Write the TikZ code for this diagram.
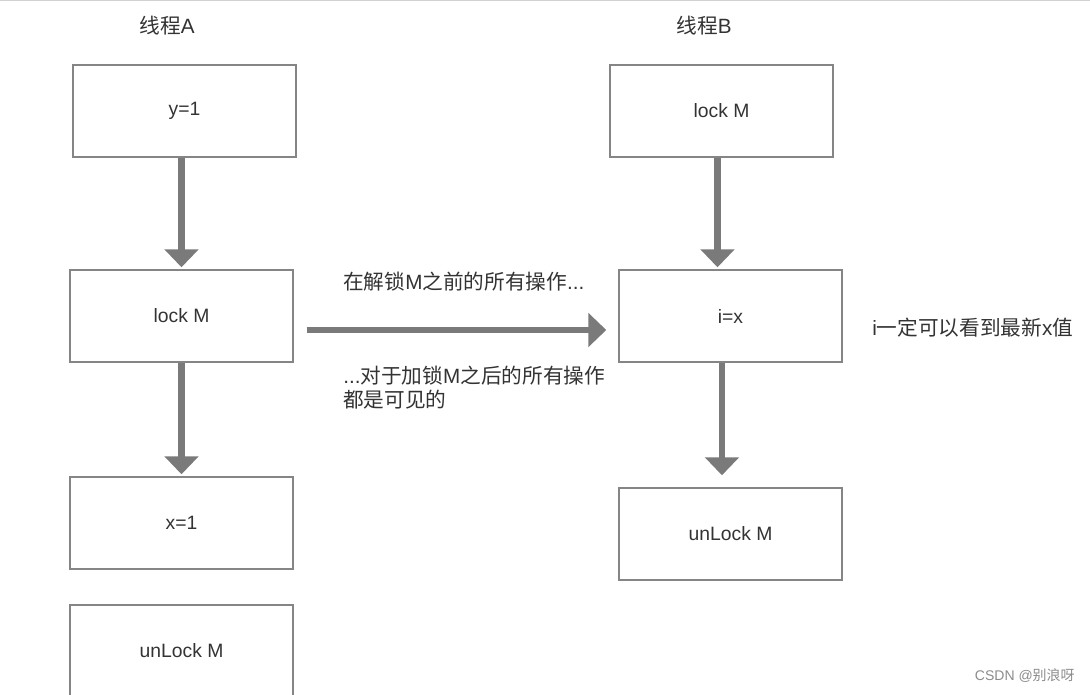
\documentclass[tikz,border=0pt]{standalone}
\usepackage{fontspec}
\setmainfont{Liberation Sans}
\newfontfamily\cjk{Noto Sans CJK SC}
\definecolor{FlowArrow}{HTML}{7A7A7A}
\definecolor{BoxBorder}{HTML}{858585}
\definecolor{TextColor}{HTML}{333333}
\usetikzlibrary{arrows.meta}

\tikzset{
    stepbox/.style = {draw = BoxBorder, line width = 1.1pt, minimum width = 167.25pt,
        minimum height = 69pt, inner sep = 0pt, text = TextColor, font = \fontsize{14.5}{17}\selectfont},
    flow/.style = {draw = FlowArrow, line width = 5pt,
        -{Triangle[width = 25pt, length = 13.5pt]}},
    label/.style = {text = TextColor, inner sep = 0pt, font = \fontsize{15.5}{18}\selectfont},
}

\begin{document}
\begin{tikzpicture}[x = 0.75pt, y = -0.75pt]

\clip (0, 0) rectangle (1090, 694);
\fill[white] (0, 0) rectangle (1090, 694);
\draw[color = black!18, line width = 1.5pt] (0, 0) -- (1090, 0);

% thread A
\node[label] (headA) at (167, 26) {{\cjk 线程}A};
\node[stepbox] (A1) at (184.5, 111) {y=1};
\node[stepbox] (A2) at (181.5, 316) {lock M};
\node[stepbox] (A3) at (181.5, 523) {x=1};
\node[stepbox] (A4) at (181.5, 651) {unLock M};

% thread B
\node[label] (headB) at (704, 26) {{\cjk 线程}B};
\node[stepbox] (B1) at (721.5, 111) {lock M};
\node[stepbox] (B2) at (730.5, 316) {i=x};
\node[stepbox] (B3) at (730.5, 534) {unLock M};

\draw[flow, shorten >= 1.5pt] (A2 |- A1.south) -- (A2.north);
\draw[flow, shorten >= 1.5pt] (A3 |- A2.south) -- (A3.north);
\draw[flow, shorten >= 1.5pt] ([xshift = -3pt]B1.south) -- ([xshift = -3pt]B1.south |- B2.north);
\draw[flow, shorten >= 9pt] ([xshift = -6.4pt]B2.south) -- ([xshift = -6.4pt]B2.south |- B3.north);

\draw[flow, shorten <= 9.75pt, shorten >= 9pt] ([yshift = -10.5pt]A2.east) -- ([yshift = -10.5pt]A2.east -| B2.west);

\node[label, anchor = west] (before) at (343, 282) {{\cjk 在解锁}M{\cjk 之前的所有操作}...};
\node[label, anchor = west, align = left] (after) at (343, 388)
    {...{\cjk 对于加锁}M{\cjk 之后的所有操作}\\{\cjk 都是可见的}};
\node[label, anchor = west] (sees) at (872, 328) {i{\cjk 一定可以看到最新}x{\cjk 值}};

\node[anchor = east, inner sep = 0pt, text = black!45, font = \fontsize{10.5}{12}\selectfont]
    (mark) at (1075, 676) {CSDN @{\cjk 别浪呀}};

\end{tikzpicture}
\end{document}
